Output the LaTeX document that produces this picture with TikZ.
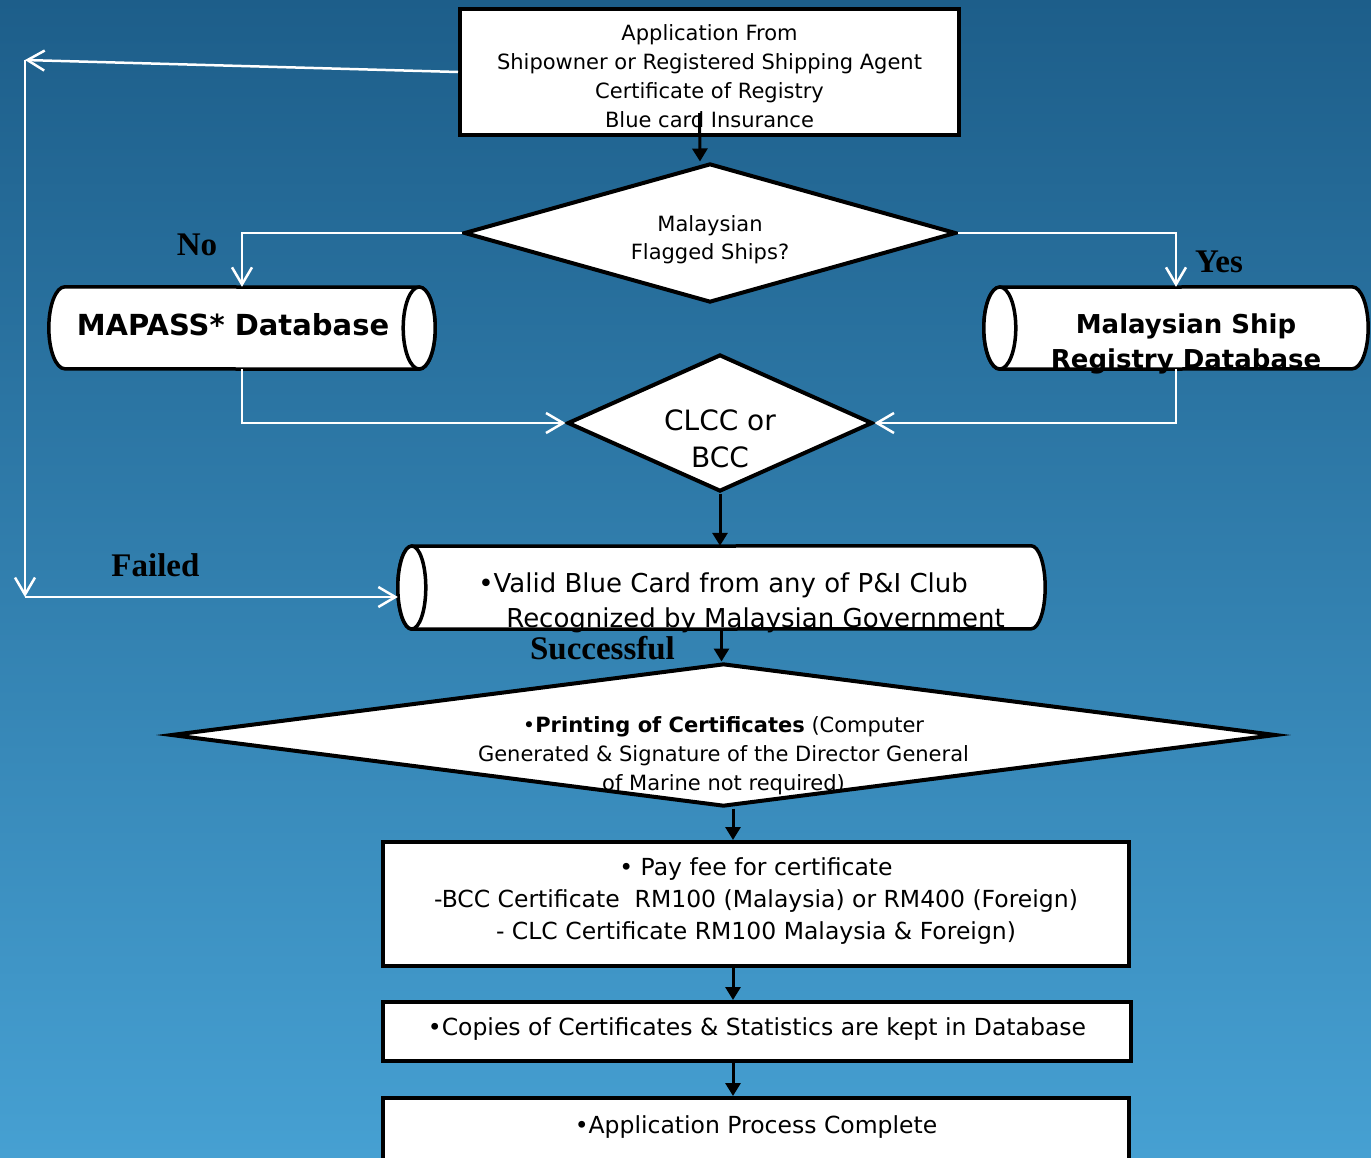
\documentclass[tikz,border=0pt]{standalone}
\usepackage{fontspec}
\setmainfont{DejaVu Sans}
\newfontfamily\lblfont{Liberation Serif}
\usetikzlibrary{shapes.geometric}
\usetikzlibrary{arrows.meta}
\usetikzlibrary{calc}
\definecolor{bg-top}{RGB}{29, 94, 138}
\definecolor{bg-bottom}{RGB}{70, 160, 210}
\pgfdeclarelayer{back}
\pgfsetlayers{back,main}

\newcommand{\shifttext}[4][c]{\makebox[0pt]{\hspace*{#2}\hspace*{#2}\raisebox{#3}[0pt][0pt]{\begin{tabular}{@{}#1@{}}#4\end{tabular}}}}

\begin{document}
\begin{tikzpicture}[x=1pt, y=-1pt,
    box/.style={rectangle, draw=black, line width=4pt, fill=white, inner sep=0pt},
    dia/.style={diamond, draw=black, line width=4pt, fill=white, inner sep=0pt},
    cylarea/.style={rectangle, inner sep=0pt},
    cylline/.style={draw=black, fill=white, line width=3.5pt},
    wline/.style={draw=white, line width=2.5pt, -{Straight Barb[length=17pt,width=20pt]}},
    barrow/.style={draw=black, line width=3pt, -{Triangle[length=13pt,width=15pt]}},
    lbl/.style={font=\lblfont\bfseries\fontsize{33}{33}\selectfont, text=black}]
                \begin{pgfonlayer}{back}
                \shade[top color=bg-top, bottom color=bg-bottom] (0, 0) rectangle (1371, 1157);
                \end{pgfonlayer}
                \useasboundingbox (0, 0) rectangle (1371, 1157);
                \clip (0, 0) rectangle (1371, 1157);

                \node[box, minimum width=499pt, minimum height=126pt, font=\fontsize{21}{29}\selectfont] (app) at (709.5, 72)
                    {\shifttext{0pt}{-11.5pt}{Application From\\Shipowner or Registered Shipping Agent\\Certificate of Registry\\Blue card Insurance}};
                \node[dia, minimum width=492pt, minimum height=139pt, font=\fontsize{21}{28}\selectfont] (flag) at (710, 233)
                    {\shifttext{0pt}{-12pt}{Malaysian\\Flagged Ships?}};
                \node[cylarea, minimum width=386pt, minimum height=82pt, font=\bfseries\fontsize{29}{35}\selectfont] (mapass) at (242, 328)
                    {\shifttext{-9pt}{-6.5pt}{MAPASS* Database}};
                \node[cylarea, minimum width=384pt, minimum height=82pt, font=\bfseries\fontsize{26}{35}\selectfont] (msr) at (1176, 328)
                    {\shifttext{10pt}{-22pt}{Malaysian Ship\\Registry Database}};
                \node[dia, minimum width=305pt, minimum height=137pt, font=\fontsize{28}{37}\selectfont] (clcc) at (720, 423)
                    {\shifttext{0pt}{-25pt}{CLCC or\\BCC}};
                \node[cylarea, minimum width=647pt, minimum height=83pt, font=\fontsize{26}{35}\selectfont] (card) at (721.5, 587.5)
                    {\shifttext[l]{20pt}{-22pt}{•Valid Blue Card from any of P\&I Club\\\hspace*{28pt}Recognized by Malaysian Government}};
                \node[dia, minimum width=1105pt, minimum height=143pt, font=\fontsize{21}{29}\selectfont] (print) at (723.5, 735)
                    {\shifttext{0pt}{-25.5pt}{•\textbf{Printing of Certificates} (Computer\\Generated \& Signature of the Director General\\of Marine not required)}};
                \node[box, minimum width=746pt, minimum height=124pt, font=\fontsize{23.5}{32}\selectfont] (pay) at (756, 904)
                    {\shifttext{0pt}{-3pt}{• Pay fee for certificate\\-BCC Certificate\ \ RM100 (Malaysia) or RM400 (Foreign)\\- CLC Certificate RM100 Malaysia \& Foreign)}};
                \node[box, minimum width=748pt, minimum height=59pt, font=\fontsize{23.5}{32}\selectfont] (copies) at (757, 1031.5)
                    {\shifttext{0pt}{-3.5pt}{•Copies of Certificates \& Statistics are kept in Database}};
                \node[box, minimum width=746pt, minimum height=80pt, font=\fontsize{23.5}{32}\selectfont] (done) at (756, 1138)
                    {\shifttext{0pt}{5pt}{•Application Process Complete}};

                \begin{pgfonlayer}{back}
                \filldraw[cylline] ([xshift=16pt]mapass.north west) arc[start angle=90, end angle=270, x radius=16pt, y radius=41pt]
                    -- ([xshift=-16pt]mapass.south east) arc[start angle=-90, end angle=90, x radius=16pt, y radius=41pt] -- cycle;
                \filldraw[cylline] ([xshift=-16pt]mapass.east) ellipse [x radius=16pt, y radius=41pt];
                \filldraw[cylline] ([xshift=-16pt]msr.north east) arc[start angle=90, end angle=-90, x radius=16pt, y radius=41pt]
                    -- ([xshift=16pt]msr.south west) arc[start angle=270, end angle=90, x radius=16pt, y radius=41pt] -- cycle;
                \filldraw[cylline] ([xshift=16pt]msr.west) ellipse [x radius=16pt, y radius=41pt];
                \filldraw[cylline] ([xshift=-14pt]card.north east) arc[start angle=90, end angle=-90, x radius=14pt, y radius=41.5pt]
                    -- ([xshift=14pt]card.south west) arc[start angle=270, end angle=90, x radius=14pt, y radius=41.5pt] -- cycle;
                \filldraw[cylline] ([xshift=14pt]card.west) ellipse [x radius=14pt, y radius=41.5pt];
                \end{pgfonlayer}

                \coordinate (fl1) at (25, 60);
                \coordinate (fl2) at (25, 597);
                \coordinate (ax) at (733, 0);

                \draw[wline] (flag.west) -| node[lbl, pos=0.5, xshift=-45pt, yshift=-12pt] {No} (mapass.north);
                \draw[wline] (flag.east) -| node[lbl, pos=0.5, xshift=43pt, yshift=-29pt] {Yes} (msr.north);
                \draw[wline] (mapass.south) |- (clcc.west);
                \draw[wline] (msr.south) |- (clcc.east);
                \draw[wline] (app.west) -- (fl1);
                \draw[wline] (fl1) -- (fl2);
                \draw[wline] (fl2) -- node[lbl, pos=0.35, yshift=32pt] {Failed} (card.west |- fl2);

                \draw[barrow] ([xshift=-10pt, yshift=24pt]app.south) -- ([xshift=-10pt]flag.north);
                \draw[barrow] (clcc.south) -- (clcc.south |- card.north);
                \draw[barrow] (card.south) -- node[lbl, pos=0.5, xshift=-119pt, yshift=-3pt] {Successful} (card.south |- print.north);
                \draw[barrow] (print.south -| ax) -- (pay.north -| ax);
                \draw[barrow] (pay.south -| ax) -- (copies.north -| ax);
                \draw[barrow] (copies.south -| ax) -- (done.north -| ax);
            \end{tikzpicture}
\end{document}
